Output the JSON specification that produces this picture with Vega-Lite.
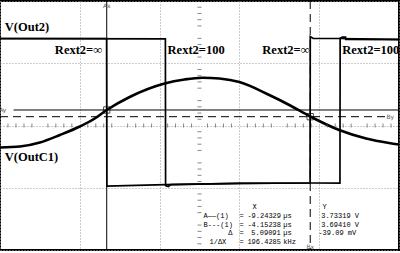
{
  "$schema": "https://vega.github.io/schema/vega-lite/v6.json",
  "autosize": {"type": "none"},
  "padding": {"left": 0, "top": 1, "right": 1, "bottom": 3},
  "width": 399,
  "height": 249,
  "background": "white",
  "config": {
    "view": {"stroke": "black", "strokeWidth": 2},
    "axis": {"labels": false, "ticks": false, "domain": false, "title": null, "grid": true, "gridColor": "#9a9a9a", "gridDash": [1, 2], "gridWidth": 1}
  },
  "datasets": {
    "sine": [
      {"x": 0, "y": -0.707}, {"x": 0.5, "y": -0.675}, {"x": 1.0, "y": -0.546}, {"x": 1.5, "y": -0.305},
      {"x": 2.0, "y": -0.032}, {"x": 2.375, "y": 0.225}, {"x": 2.675, "y": 0.498}, {"x": 3.25, "y": 0.916},
      {"x": 4.125, "y": 1.349}, {"x": 4.625, "y": 1.478}, {"x": 5.075, "y": 1.536}, {"x": 5.5, "y": 1.51},
      {"x": 6.0, "y": 1.398}, {"x": 6.75, "y": 0.98}, {"x": 7.25, "y": 0.659}, {"x": 7.775, "y": 0.289},
      {"x": 8.5, "y": -0.145}, {"x": 9.175, "y": -0.418}, {"x": 9.75, "y": -0.562}, {"x": 10, "y": -0.61}
    ],
    "square": [
      {"s": "inf", "i": 0, "x": 0, "y": 2.795}, {"s": "inf", "i": 1, "x": 2.672, "y": 2.795},
      {"s": "inf", "i": 2, "x": 2.678, "y": -1.944}, {"s": "inf", "i": 3, "x": 4.15, "y": -1.9},
      {"s": "inf", "i": 4, "x": 6.0, "y": -1.86}, {"s": "inf", "i": 5, "x": 7.772, "y": -1.847},
      {"s": "inf", "i": 6, "x": 7.776, "y": 2.86}, {"s": "inf", "i": 7, "x": 7.85, "y": 2.8},
      {"s": "inf", "i": 8, "x": 8.5, "y": 2.795}, {"s": "inf", "i": 9, "x": 10, "y": 2.77},
      {"s": "100", "i": 0, "x": 0, "y": 2.79}, {"s": "100", "i": 1, "x": 4.145, "y": 2.785},
      {"s": "100", "i": 2, "x": 4.15, "y": -1.93}, {"s": "100", "i": 3, "x": 4.22, "y": -1.96},
      {"s": "100", "i": 4, "x": 4.28, "y": -1.9}, {"s": "100", "i": 5, "x": 6.0, "y": -1.86},
      {"s": "100", "i": 6, "x": 7.8, "y": -1.847}, {"s": "100", "i": 7, "x": 8.52, "y": -1.85},
      {"s": "100", "i": 8, "x": 8.525, "y": 2.8}, {"s": "100", "i": 9, "x": 8.58, "y": 2.84},
      {"s": "100", "i": 10, "x": 8.66, "y": 2.84}, {"s": "100", "i": 11, "x": 8.665, "y": 2.77},
      {"s": "100", "i": 12, "x": 10, "y": 2.76}
    ],
    "hticks": [
      {"x": 0.2}, {"x": 0.4}, {"x": 0.6}, {"x": 0.8}, {"x": 1.2}, {"x": 1.4}, {"x": 1.6}, {"x": 1.8},
      {"x": 2.2}, {"x": 2.4}, {"x": 2.6}, {"x": 2.8}, {"x": 3.2}, {"x": 3.4}, {"x": 3.6}, {"x": 3.8},
      {"x": 4.2}, {"x": 4.4}, {"x": 4.6}, {"x": 4.8}, {"x": 5.2}, {"x": 5.4}, {"x": 5.6}, {"x": 5.8},
      {"x": 6.2}, {"x": 6.4}, {"x": 6.6}, {"x": 6.8}, {"x": 7.2}, {"x": 7.4}, {"x": 7.6}, {"x": 7.8},
      {"x": 8.2}, {"x": 8.4}, {"x": 8.6}, {"x": 8.8}, {"x": 9.2}, {"x": 9.4}, {"x": 9.6}, {"x": 9.8}
    ],
    "vticks": [
      {"y": -3.8}, {"y": -3.6}, {"y": -3.4}, {"y": -3.2}, {"y": -2.8}, {"y": -2.6}, {"y": -2.4}, {"y": -2.2},
      {"y": -1.8}, {"y": -1.6}, {"y": -1.4}, {"y": -1.2}, {"y": -0.8}, {"y": -0.6}, {"y": -0.4}, {"y": -0.2},
      {"y": 0.2}, {"y": 0.4}, {"y": 0.6}, {"y": 0.8}, {"y": 1.2}, {"y": 1.4}, {"y": 1.6}, {"y": 1.8},
      {"y": 2.2}, {"y": 2.4}, {"y": 2.6}, {"y": 2.8}, {"y": 3.2}, {"y": 3.4}, {"y": 3.6}, {"y": 3.8}
    ],
    "labels": [
      {"t": "V(Out2)", "x": 0.12, "y": 3.165},
      {"t": "Rext2=∞", "x": 1.375, "y": 2.426},
      {"t": "Rext2=100", "x": 4.2, "y": 2.426},
      {"t": "Rext2=∞", "x": 6.575, "y": 2.426},
      {"t": "Rext2=100", "x": 8.575, "y": 2.426},
      {"t": "V(OutC1)", "x": 0.12, "y": -1.012}
    ],
    "cursorLabels": [
      {"t": "Ax", "x": 2.675, "y": 3.84, "a": "center"},
      {"t": "Ay", "x": 0.07, "y": 0.498, "a": "left"},
      {"t": "By", "x": 9.78, "y": 0.283, "a": "left"},
      {"t": "Bx", "x": 7.775, "y": -3.9, "a": "center"}
    ],
    "readout": [
      {"t": "X", "x": 6.33, "y": -2.618},
      {"t": "Y", "x": 8.08, "y": -2.618},
      {"t": "A——(1)", "x": 5.1, "y": -2.908},
      {"t": "=", "x": 6.0, "y": -2.908},
      {"t": "-9.24329", "x": 6.2, "y": -2.908},
      {"t": "µs", "x": 7.1, "y": -2.908},
      {"t": "3.73319 V", "x": 8.05, "y": -2.908},
      {"t": "B---(1)", "x": 5.1, "y": -3.181},
      {"t": "=", "x": 6.0, "y": -3.181},
      {"t": "-4.15238", "x": 6.2, "y": -3.181},
      {"t": "µs", "x": 7.1, "y": -3.181},
      {"t": "3.69410 V", "x": 8.05, "y": -3.181},
      {"t": "Δ", "x": 5.72, "y": -3.454},
      {"t": "=", "x": 6.0, "y": -3.454},
      {"t": "5.09091", "x": 6.3, "y": -3.454},
      {"t": "µs", "x": 7.1, "y": -3.454},
      {"t": "-39.09 mV", "x": 7.98, "y": -3.454},
      {"t": "1/ΔX", "x": 5.25, "y": -3.727},
      {"t": "=", "x": 6.0, "y": -3.727},
      {"t": "196.4285", "x": 6.2, "y": -3.727},
      {"t": "kHz", "x": 7.1, "y": -3.727}
    ]
  },
  "layer": [
    {
      "data": {"name": "sine"},
      "mark": {"type": "line", "color": "black", "strokeWidth": 2.6, "interpolate": "monotone", "clip": true},
      "encoding": {
        "x": {"field": "x", "type": "quantitative", "scale": {"domain": [0, 10], "nice": false, "zero": false}, "axis": {"values": [0, 1, 2, 3, 4, 5, 6, 7, 8, 9, 10]}},
        "y": {"field": "y", "type": "quantitative", "scale": {"domain": [-4, 4], "nice": false, "zero": false}, "axis": {"values": [-4, -3, -2, -1, 0, 1, 2, 3, 4]}}
      }
    },
    {
      "data": {"name": "hticks"},
      "mark": {"type": "tick", "orient": "vertical", "color": "#555", "size": 4, "thickness": 1},
      "encoding": {
        "x": {"field": "x", "type": "quantitative"},
        "y": {"datum": 0, "type": "quantitative"}
      }
    },
    {
      "data": {"name": "vticks"},
      "mark": {"type": "tick", "orient": "horizontal", "color": "#555", "size": 4, "thickness": 1},
      "encoding": {
        "y": {"field": "y", "type": "quantitative"},
        "x": {"datum": 5, "type": "quantitative"}
      }
    },
    {
      "data": {"values": [{"x": 2.675}]},
      "mark": {"type": "rule", "color": "black", "strokeWidth": 1},
      "encoding": {"x": {"field": "x", "type": "quantitative"}}
    },
    {
      "data": {"values": [{"x": 7.775}]},
      "mark": {"type": "rule", "color": "black", "strokeWidth": 1, "strokeDash": [8, 5]},
      "encoding": {"x": {"field": "x", "type": "quantitative"}}
    },
    {
      "data": {"values": [{"x": 0.34, "x2": 10, "y": 0.498}]},
      "mark": {"type": "rule", "color": "black", "strokeWidth": 1},
      "encoding": {"x": {"field": "x", "type": "quantitative"}, "x2": {"field": "x2"}, "y": {"field": "y", "type": "quantitative"}}
    },
    {
      "data": {"values": [{"x": 0, "x2": 9.72, "y": 0.283}]},
      "mark": {"type": "rule", "color": "black", "strokeWidth": 1, "strokeDash": [8, 5]},
      "encoding": {"x": {"field": "x", "type": "quantitative"}, "x2": {"field": "x2"}, "y": {"field": "y", "type": "quantitative"}}
    },
    {
      "data": {"name": "square"},
      "mark": {"type": "line", "color": "black", "strokeWidth": 1.7, "interpolate": "linear", "clip": true},
      "encoding": {
        "x": {"field": "x", "type": "quantitative"},
        "y": {"field": "y", "type": "quantitative"},
        "detail": {"field": "s"},
        "order": {"field": "i", "type": "quantitative"}
      }
    },
    {
      "data": {"values": [{"x": 2.675, "y": 0.498}, {"x": 7.775, "y": 0.283}]},
      "mark": {"type": "square", "filled": false, "color": "black", "size": 40, "strokeWidth": 1},
      "encoding": {"x": {"field": "x", "type": "quantitative"}, "y": {"field": "y", "type": "quantitative"}}
    },
    {
      "data": {"name": "labels"},
      "mark": {"type": "text", "font": "Liberation Serif", "fontWeight": "bold", "fontSize": 12.5, "align": "left", "baseline": "middle", "color": "black"},
      "encoding": {"x": {"field": "x", "type": "quantitative"}, "y": {"field": "y", "type": "quantitative"}, "text": {"field": "t"}}
    },
    {
      "data": {"name": "cursorLabels"},
      "mark": {"type": "text", "font": "DejaVu Sans", "fontSize": 6, "baseline": "middle", "color": "#555"},
      "encoding": {"x": {"field": "x", "type": "quantitative"}, "y": {"field": "y", "type": "quantitative"}, "text": {"field": "t"}, "align": {"field": "a", "type": "nominal", "scale": null}}
    },
    {
      "data": {"name": "readout"},
      "mark": {"type": "text", "font": "Liberation Mono", "fontSize": 7, "align": "left", "baseline": "middle", "color": "black"},
      "encoding": {"x": {"field": "x", "type": "quantitative"}, "y": {"field": "y", "type": "quantitative"}, "text": {"field": "t"}}
    }
  ]
}
